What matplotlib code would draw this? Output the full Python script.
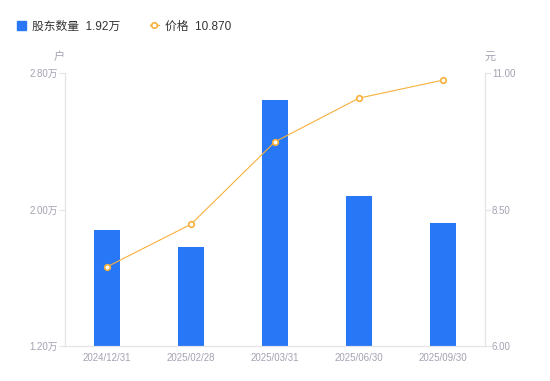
import matplotlib
matplotlib.use("Agg")
import matplotlib.pyplot as plt
from matplotlib.lines import Line2D
from matplotlib.patches import Patch

plt.rcParams["font.family"] = ["Liberation Sans", "Noto Sans CJK SC", "DejaVu Sans"]

dates = ["2024/12/31", "2025/02/28", "2025/03/31", "2025/06/30", "2025/09/30"]
holders = [1.88, 1.78, 2.64, 2.08, 1.92]   # 万户
price = [7.45, 8.23, 9.74, 10.54, 10.87]   # 元

BAR = "#2777f6"
LINE = "#f7b03c"
TICK = "#a3a3b3"
AXIS = "#e3e3e8"

fig = plt.figure(figsize=(5.5, 3.81), dpi=100)
ax = fig.add_axes([65 / 550, 35 / 381, 420 / 550, 273 / 381])
ax2 = ax.twinx()

x = list(range(len(dates)))
ax.bar(x, holders, width=0.3, color=BAR, zorder=2)
ax2.plot(x, price, color=LINE, linewidth=0.8, marker="o", markersize=4,
         markerfacecolor="white", markeredgecolor=LINE, markeredgewidth=1.2, zorder=3)

ax.set_xlim(-0.5, len(dates) - 0.5)
ax.set_ylim(1.2, 2.8)
ax.set_yticks([1.2, 2.0, 2.8])
ax.set_yticklabels(["1.20万", "2.00万", "2.80万"])
ax2.set_ylim(6.0, 11.0)
ax2.set_yticks([6.0, 8.5, 11.0])
ax2.set_yticklabels(["6.00", "8.50", "11.00"])
ax.set_xticks(x)
ax.set_xticklabels(dates)

for a in (ax, ax2):
    for s in a.spines.values():
        s.set_color(AXIS)
        s.set_linewidth(0.8)
    a.spines["top"].set_visible(False)
    a.tick_params(axis="y", colors=AXIS, labelcolor=TICK, labelsize=7, length=4, width=0.8, pad=1)
ax.tick_params(axis="x", length=0, labelcolor=TICK, labelsize=7, pad=5)

ax.text(-6 / 420, 1 + 11 / 273, "户", transform=ax.transAxes, ha="center", va="bottom",
        fontsize=8, color=TICK)
ax2.text(1 + 5 / 420, 1 + 11 / 273, "元", transform=ax2.transAxes, ha="center", va="bottom",
         fontsize=8, color=TICK)

handles = [
    Patch(color=BAR),
    Line2D([0], [0], color=LINE, marker="o", markersize=4, markerfacecolor="white",
           markeredgecolor=LINE, markeredgewidth=1.2, linewidth=1),
]
leg = fig.legend(handles, ["股东数量  1.92万", "价格  10.870"], loc="upper left",
                 bbox_to_anchor=(6 / 550, 1 - 10 / 381), ncol=2, frameon=False,
                 fontsize=8.5, handlelength=0.8, handleheight=0.8, handletextpad=0.5,
                 columnspacing=2.5)
for t in leg.get_texts():
    t.set_color("#333333")

fig.savefig("out.png", dpi=100)
